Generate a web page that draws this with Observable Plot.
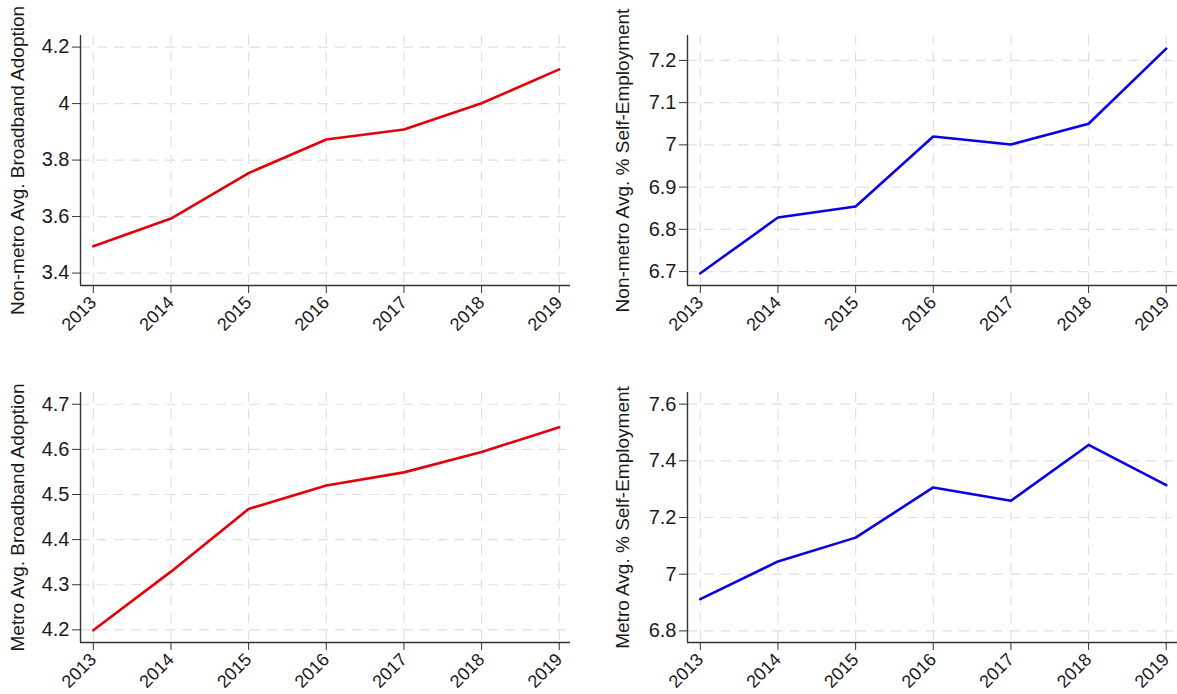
<!DOCTYPE html>
<html>
<head>
<meta charset="utf-8">
<script src="https://cdn.jsdelivr.net/npm/d3@7"></script>
<script src="https://cdn.jsdelivr.net/npm/@observablehq/plot@0.6"></script>
<style>
  html, body { margin: 0; padding: 0; background: #ffffff; }
  #chart { position: relative; width: 1177px; height: 694px; background: #ffffff; overflow: hidden; }
  #chart .panel { position: absolute; max-width: none !important; }
</style>
</head>
<body>
<div id="chart"></div>
<script>
// ---- Data ----
const years = [2013, 2014, 2015, 2016, 2017, 2018, 2019];
const nonMetroBroadband = [3.495, 3.593, 3.754, 3.873, 3.908, 4.001, 4.121];
const nonMetroSelfEmp   = [6.696, 6.828, 6.854, 7.020, 7.001, 7.050, 7.228];
const metroBroadband    = [4.199, 4.329, 4.468, 4.520, 4.549, 4.594, 4.649];
const metroSelfEmp      = [6.912, 7.045, 7.129, 7.306, 7.259, 7.456, 7.314];

const nonMetroBroadbandTicks = [3.4, 3.6, 3.8, 4, 4.2];
const nonMetroSelfEmpTicks   = [6.7, 6.8, 6.9, 7, 7.1, 7.2];
const metroBroadbandTicks    = [4.2, 4.3, 4.4, 4.5, 4.6, 4.7];
const metroSelfEmpTicks      = [6.8, 7, 7.2, 7.4, 7.6];

const nonMetroBroadbandDomain = [3.356, 4.241];
const nonMetroSelfEmpDomain   = [6.667, 7.259];
const metroBroadbandDomain    = [4.172, 4.726];
const metroSelfEmpDomain      = [6.759, 7.641];
const xDomain = [2012.835, 2019.145];

const labels = [
  "Non-metro Avg. Broadband Adoption",
  "Non-metro Avg. % Self-Employment",
  "Metro Avg. Broadband Adoption",
  "Metro Avg. % Self-Employment"
];

const RED = "#e4000a";
const BLUE = "#0a00e6";
const FONT = "Arial, 'Liberation Sans', Helvetica, sans-serif";

function panel(cfg) {
  const data = years.map((year, i) => ({year, value: cfg.values[i]}));
  const plot = Plot.plot({
    width: cfg.width,
    height: cfg.height,
    marginLeft: cfg.marginLeft,
    marginRight: cfg.marginRight,
    marginTop: cfg.marginTop,
    marginBottom: cfg.marginBottom,
    style: {fontFamily: FONT, fontSize: "19px", color: "#1a1a1a", background: "transparent", overflow: "visible"},
    x: {domain: xDomain},
    y: {domain: cfg.domain},
    marks: [
      Plot.gridY(cfg.ticks, {stroke: "#e0e0e0", strokeOpacity: 1, strokeWidth: 1.2, strokeDasharray: "10,7"}),
      Plot.gridX(years, {stroke: "#e0e0e0", strokeOpacity: 1, strokeWidth: 1.2, strokeDasharray: "10,7"}),
      Plot.ruleX([xDomain[0]], {stroke: "#333333", strokeWidth: 1.4}),
      Plot.ruleY([cfg.domain[0]], {stroke: "#333333", strokeWidth: 1.4}),
      Plot.axisY(cfg.ticks, {
        tickSize: 8, tickPadding: 3, stroke: "#333333",
        tickFormat: d => String(d),
        label: cfg.label, labelAnchor: "center", labelOffset: cfg.labelOffset, labelArrow: "none"
      }),
      Plot.axisX(years, {
        tickSize: 8, tickPadding: 6, tickRotate: -45, stroke: "#333333",
        tickFormat: d => String(d), label: null
      }),
      Plot.lineY(data, {x: "year", y: "value", stroke: cfg.color, strokeWidth: 2.6})
    ]
  });
  // enforce font sizes on every text node
  plot.querySelectorAll("text").forEach(t => {
    const g = t.closest("g[aria-label]");
    const al = g ? g.getAttribute("aria-label") : "";
    let size = "19px";
    if (al.includes("x-axis")) size = "18px";
    else if (al.includes("y-axis tick label")) size = "20px";
    t.style.fontSize = size;
    t.style.fontFamily = FONT;
    t.style.fill = "#1a1a1a";
  });
  plot.classList.add("panel");
  plot.style.left = cfg.left + "px";
  plot.style.top = cfg.top + "px";
  return plot;
}

const chart = document.getElementById("chart");
const topRow = {top: 0, height: 347, marginTop: 35, marginBottom: 62};
const botRow = {top: 347, height: 347, marginTop: 45, marginBottom: 52};
const leftCol = {left: 0, width: 588, marginLeft: 80, marginRight: 18, labelOffset: 70};
const rightCol = {left: 588, width: 589, marginLeft: 99, marginRight: 0, labelOffset: 72};

chart.appendChild(panel({...topRow, ...leftCol, values: nonMetroBroadband, ticks: nonMetroBroadbandTicks, domain: nonMetroBroadbandDomain, label: labels[0], color: RED}));
chart.appendChild(panel({...topRow, ...rightCol, values: nonMetroSelfEmp, ticks: nonMetroSelfEmpTicks, domain: nonMetroSelfEmpDomain, label: labels[1], color: BLUE}));
chart.appendChild(panel({...botRow, ...leftCol, values: metroBroadband, ticks: metroBroadbandTicks, domain: metroBroadbandDomain, label: labels[2], color: RED}));
chart.appendChild(panel({...botRow, ...rightCol, values: metroSelfEmp, ticks: metroSelfEmpTicks, domain: metroSelfEmpDomain, label: labels[3], color: BLUE}));
</script>
</body>
</html>
